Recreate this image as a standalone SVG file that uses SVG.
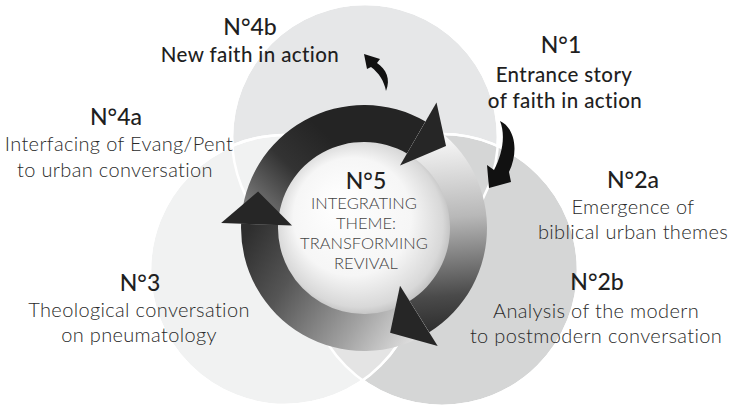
<svg xmlns="http://www.w3.org/2000/svg" width="730" height="409" viewBox="0 0 730 409">
  <defs>
    <style>
      .circ { stroke: #ffffff; stroke-width: 2.5; }
      .outline { fill: none; stroke: #ffffff; stroke-width: 2.5; }
      .num { font-family: Lato, "Liberation Sans", sans-serif; font-weight: 500; font-size: 23px; fill: #1f1f1f; text-anchor: middle; }
      .sub { font-family: Lato, "Liberation Sans", sans-serif; font-weight: 500; font-size: 20.5px; letter-spacing: 0.4px; fill: #1f1f1f; text-anchor: middle; }
      .body { font-family: Lato, "Liberation Sans", sans-serif; font-weight: 300; font-size: 20px; letter-spacing: 0.35px; fill: #2a2a2a; text-anchor: middle; }
      .caps { font-family: Lato, "Liberation Sans", sans-serif; font-weight: 300; font-size: 16.5px; fill: #444444; text-anchor: middle; }
      .head { fill: #262626; }
      .small { fill: #111111; }
    </style>
    <clipPath id="clipLeft">
      <circle cx="285" cy="270" r="135"/>
    </clipPath>
    <radialGradient id="sphere" cx="364" cy="228" r="98" fx="335" fy="200" gradientUnits="userSpaceOnUse">
      <stop offset="0" stop-color="#ffffff"/>
      <stop offset="0.6" stop-color="#f6f6f6"/>
      <stop offset="0.85" stop-color="#d8d8d8"/>
      <stop offset="1" stop-color="#a6a6a6"/>
    </radialGradient>
    <linearGradient id="g1" x1="236" y1="215" x2="320" y2="128" gradientUnits="userSpaceOnUse">
      <stop offset="0" stop-color="#8e8e8e"/>
      <stop offset="0.6" stop-color="#333333"/>
      <stop offset="1" stop-color="#242424"/>
    </linearGradient>
    <linearGradient id="g2" x1="435" y1="140" x2="450" y2="335" gradientUnits="userSpaceOnUse">
      <stop offset="0" stop-color="#f6f6f6"/>
      <stop offset="0.4" stop-color="#b8b8b8"/>
      <stop offset="0.8" stop-color="#4a4a4a"/>
      <stop offset="1" stop-color="#2a2a2a"/>
    </linearGradient>
    <linearGradient id="g3" x1="415" y1="345" x2="245" y2="235" gradientUnits="userSpaceOnUse">
      <stop offset="0" stop-color="#e2e2e2"/>
      <stop offset="0.3" stop-color="#a2a2a2"/>
      <stop offset="0.7" stop-color="#555555"/>
      <stop offset="1" stop-color="#2e2e2e"/>
    </linearGradient>
  </defs>

  <rect width="730" height="409" fill="#ffffff"/>

  <!-- background circles -->
  <g id="circles">
    <circle id="circle-top" class="circ" cx="365" cy="137" r="133" fill="#e6e7e8"/>
    <circle id="circle-right" class="circ" cx="442" cy="270" r="136" fill="#d5d6d6"/>
    <circle id="circle-left" class="circ" cx="285" cy="270" r="135" fill="#f1f2f2"/>
    <circle cx="442" cy="270" r="136" fill="#e4e4e4" clip-path="url(#clipLeft)"/>
    <circle class="outline" cx="365" cy="137" r="133"/>
    <circle class="outline" cx="442" cy="270" r="136"/>
    <circle class="outline" cx="285" cy="270" r="135"/>
  </g>

  <!-- center node -->
  <g id="node-5">
    <circle cx="364" cy="228" r="87" fill="url(#sphere)"/>
    <text class="num" x="366" y="189">N°5</text>
    <text class="caps" x="364" y="209">INTEGRATING</text>
    <text class="caps" x="366" y="229">THEME:</text>
    <text class="caps" x="364" y="249">TRANSFORMING</text>
    <text class="caps" x="366" y="269">REVIVAL</text>
  </g>

  <!-- connectors: cycle arrows and small arrows -->
  <g id="connectors">
    <path d="M241.1,223.7 A123,123 0 0 1 425.5,121.5 L407,153.5 A86,86 0 0 0 278.05,225 Z" fill="url(#g1)"/>
    <path d="M425.5,121.5 A123,123 0 0 1 429.2,332.3 L409.6,300.9 A86,86 0 0 0 407,153.5 Z" fill="url(#g2)"/>
    <path d="M429.2,332.3 A123,123 0 0 1 241.1,223.7 L278.05,225 A86,86 0 0 0 409.6,300.9 Z" fill="url(#g3)"/>
    <polygon class="head" points="436.5,102.4 446,146 400,165.6"/>
    <polygon class="head" points="437.7,345.9 390.1,332.8 400,285.7"/>
    <polygon class="head" points="221.1,223 258.1,191.5 292,225.5"/>
    <path class="small" d="M364,54 L380,59 L377,63 C386,69 391,79 386,91 C384,81 379,73 371,67 L367,69 Z"/>
    <path class="small" d="M500,121 C515,128 519,151 509,172 L511,182 L489,188 L487,165 L494,170 C502,155 506,136 500,121 Z"/>
  </g>

  <g id="node-4b">
    <text class="num" x="250" y="35">N°4b</text>
    <text class="sub" x="250" y="62">New faith in action</text>
  </g>
  <g id="node-1">
    <text class="num" x="561" y="53">N°1</text>
    <text class="sub" x="564" y="82">Entrance story</text>
    <text class="sub" x="565" y="108">of faith in action</text>
  </g>
  <g id="node-4a">
    <text class="num" x="116" y="125">N°4a</text>
    <text class="body" x="119" y="151">Interfacing of Evang/Pent</text>
    <text class="body" x="115" y="177">to urban conversation</text>
  </g>
  <g id="node-2a">
    <text class="num" x="633" y="188">N°2a</text>
    <text class="body" x="633" y="214">Emergence of</text>
    <text class="body" x="633" y="239">biblical urban themes</text>
  </g>
  <g id="node-3">
    <text class="num" x="140" y="291">N°3</text>
    <text class="body" x="139" y="317">Theological conversation</text>
    <text class="body" x="139" y="342">on pneumatology</text>
  </g>
  <g id="node-2b">
    <text class="num" x="597" y="290">N°2b</text>
    <text class="body" x="596" y="318">Analysis of the modern</text>
    <text class="body" x="596" y="343">to postmodern conversation</text>
  </g>
</svg>
